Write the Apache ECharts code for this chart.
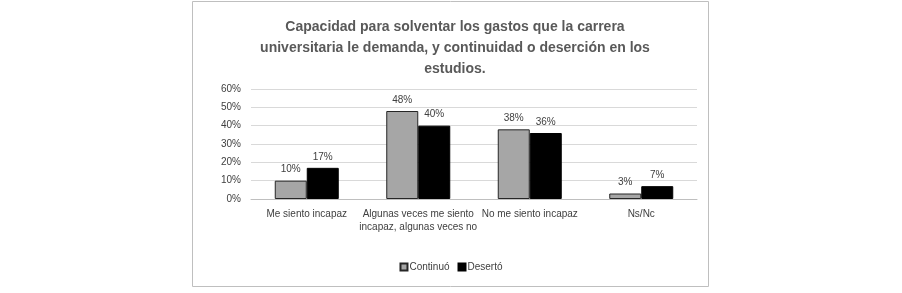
<!DOCTYPE html>
<html>
<head>
<meta charset="utf-8">
<script src="https://cdn.jsdelivr.net/npm/echarts@6/dist/echarts.min.js"></script>
<style>
  html, body { margin: 0; padding: 0; background: #fff; }
  #chart { width: 902px; height: 293px; }
</style>
</head>
<body>
<div id="chart"></div>
<script>
const categories = ['Me siento incapaz', 'Algunas veces me siento\nincapaz, algunas veces no', 'No me siento incapaz', 'Ns/Nc']
const continuo = [10, 48, 38, 3]
const deserto = [17, 40, 36, 7]
const titleText = 'Capacidad para solventar los gastos que la carrera\nuniversitaria le demanda, y continuidad o deserción en los\nestudios.'

let myChart = echarts.init(document.getElementById('chart'))
const font = 'Liberation Sans'
myChart.setOption({
  animation: false,
  textStyle: { fontFamily: font },
  graphic: [
    {
      type: 'rect',
      shape: { x: 192.5, y: 1.5, width: 516, height: 285 },
      style: { fill: 'none', stroke: '#bfbfbf', lineWidth: 1 },
      silent: true
    }
  ],
  title: {
    text: titleText,
    left: 450,
    textAlign: 'center',
    top: 12,
    textStyle: {
      color: '#595959',
      fontSize: 14,
      fontWeight: 'bold',
      fontFamily: font,
      lineHeight: 21
    }
  },
  legend: {
    data: ['Continuó', 'Desertó'],
    bottom: 16,
    left: 'center',
    itemWidth: 7,
    itemHeight: 7,
    itemGap: 8,
    icon: 'rect',
    textStyle: { color: '#404040', fontSize: 10, padding: [0, 0, 0, -3] }
  },
  grid: { left: 251, right: 205, top: 89, bottom: 94 },
  xAxis: {
    type: 'category',
    data: categories,
    axisTick: { show: false },
    axisLine: { lineStyle: { color: '#bfbfbf' } },
    axisLabel: { color: '#404040', fontSize: 10, margin: 9, lineHeight: 13, interval: 0 }
  },
  yAxis: {
    type: 'value',
    min: 0,
    max: 60,
    interval: 10,
    axisLabel: { color: '#404040', fontSize: 10, formatter: '{value}%', margin: 10 },
    splitLine: { lineStyle: { color: '#d9d9d9' } },
    axisLine: { show: false },
    axisTick: { show: false }
  },
  series: [
    {
      name: 'Continuó',
      type: 'bar',
      data: continuo,
      barWidth: 32,
      barGap: '0%',
      itemStyle: { color: '#a6a6a6', borderColor: '#262626', borderWidth: 1 },
      label: { show: true, position: 'top', formatter: '{c}%', color: '#404040', fontSize: 10, distance: 6 }
    },
    {
      name: 'Desertó',
      type: 'bar',
      data: deserto,
      barWidth: 32,
      itemStyle: { color: '#000000', borderColor: '#000000', borderWidth: 1 },
      label: { show: true, position: 'top', formatter: '{c}%', color: '#404040', fontSize: 10, distance: 6 }
    }
  ]
})
</script>
</body>
</html>
